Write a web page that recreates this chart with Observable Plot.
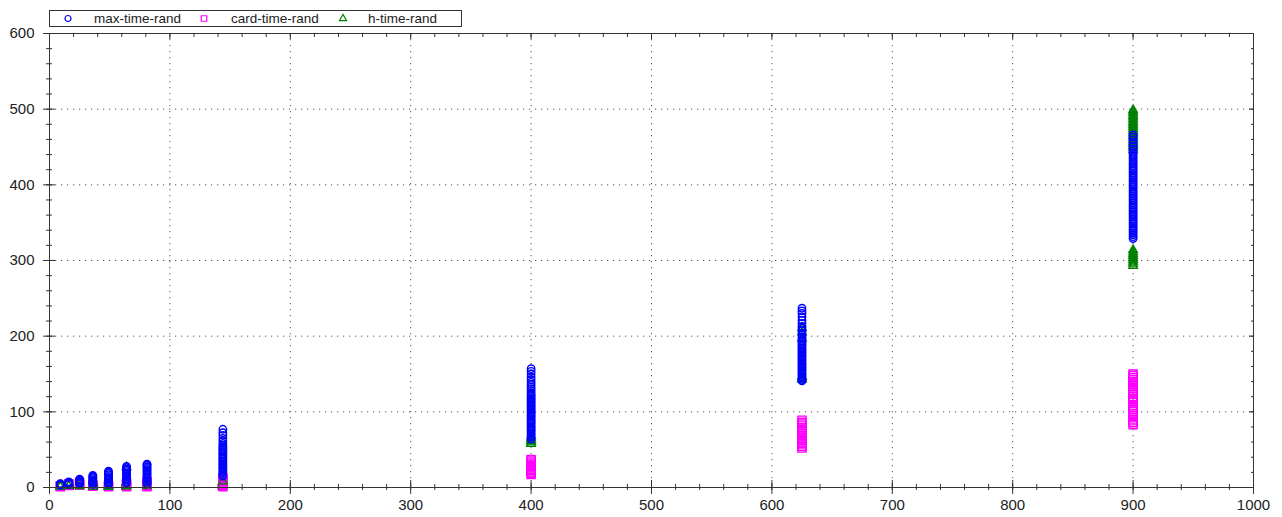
<!DOCTYPE html>
<html>
<head>
<meta charset="utf-8">
<script src="https://cdn.jsdelivr.net/npm/d3@7"></script>
<script src="https://cdn.jsdelivr.net/npm/@observablehq/plot@0.6"></script>
<style>
  body { margin: 0; background: #fff; }
  #wrap { position: relative; width: 1282px; height: 517px; font-family: "Liberation Sans", Arial, sans-serif; }
  #legend { position: absolute; left: 49px; top: 10px; width: 411px; height: 15px; border: 1px solid #333; background: #fff; font-size: 13.5px; color: #222; }
  #legend span { position: absolute; top: -1px; line-height: 17px; white-space: nowrap; }
  #legend svg { position: absolute; top: 0; }
</style>
</head>
<body>
<div id="wrap">
  <div id="chart"></div>
  <div id="legend"></div>
</div>
<script>
// problem sizes (x)
const sizes = [9, 16, 25, 36, 49, 64, 81, 144, 400, 625, 900];

// series labels
const seriesNames = ["max-time-rand", "card-time-rand", "h-time-rand"];
const seriesColors = ["#0000ff", "#ff00ff", "#008000"];

// max-time-rand values per size
const maxTime = [
  [3, 3.5, 4, 4.6, 5.2],
  [4, 5, 6, 6.8, 7.5],
  [5, 6.2, 7.1, 8, 9.3, 10.2, 11],
  [4, 5.5, 7.2, 8.6, 10.1, 11.8, 13.2, 14.6, 16],
  [4, 5.8, 7.5, 9.6, 11.2, 13, 14.8, 16.9, 18.7, 20.3, 21.5],
  [6, 7.8, 9.7, 11.5, 13.6, 15.2, 17.4, 19.1, 21, 22.8, 24.5, 26.3, 28],
  [5, 7, 8.6, 10.5, 12.4, 14.1, 16.3, 18, 19.8, 21.9, 23.5, 25.4, 27.2, 29, 30.2, 31],
  [15, 17, 19.5, 21, 23.4, 25, 27.2, 29.5, 31, 33.3, 35, 37.6, 39, 41.2, 43.5, 45, 47.1, 49.4, 51, 53.2, 55.6, 58, 61.5, 65, 69, 72.5, 77],
  [64, 66.5, 68, 70.3, 72.1, 74.6, 76, 78.4, 80.2, 82, 84.5, 86.1, 88.3, 90, 92.6, 94.2, 96, 98.5, 100.1, 102.4, 104, 106.3, 108.2, 110, 112.5, 114.1, 116.4, 118, 120.6, 122.3, 125, 127.8, 130.5, 133, 136.2, 139, 142.5, 146, 150, 153.5, 157],
  [141, 142.5, 144.3, 146, 148.2, 150.1, 152, 154.4, 156, 158.3, 160.1, 162.2, 164, 166.5, 168.1, 170, 172.4, 174.2, 176, 178.3, 180.1, 182.4, 184, 186.2, 188.5, 190.1, 192.3, 194, 196.6, 199, 201.5, 204, 207.2, 210.5, 213, 216.8, 221, 225.5, 230, 233.4, 237],
  [329, 331.5, 334, 336.2, 338.6, 341, 343.3, 345.5, 348, 350.2, 352.7, 355, 357.4, 359.6, 362, 364.3, 366.5, 369, 371.2, 373.6, 376, 378.3, 380.5, 383, 385.2, 387.6, 390, 392.2, 394.7, 397, 399.3, 401.5, 404, 406.4, 408.6, 411, 413.3, 415.5, 418, 420.2, 422.6, 425, 427.3, 429.5, 432, 434.4, 436.8, 439, 441.5, 444, 447.5, 451, 455, 459.5, 463, 466]
];

// card-time-rand values per size
const cardTime = [
  [1, 1.6, 2.2],
  [2.5, 3.5, 4.5, 5.2],
  [3, 4.2, 5.4, 6.8],
  [1.5, 2.6, 3.4],
  [1, 2, 3.1],
  [1, 2.8, 4.6, 6.5],
  [1, 2.2, 3.9, 5.8, 7.6],
  [1, 2.6, 4.3, 6, 7.8, 9.5, 11.4, 13],
  [17, 18.8, 20.5, 22.3, 24, 25.8, 27.5, 29.4, 31, 33.5, 35.2, 37],
  [52, 54, 56.3, 58.5, 60.1, 62.5, 64.2, 66.7, 69, 71.5, 74, 76.4, 79, 81.5, 84, 86.3, 89],
  [83, 85.5, 88, 90.4, 93, 95.5, 98, 100.4, 103, 105.5, 108, 113, 115.6, 118, 120.4, 123, 125.5, 128, 130.6, 133, 135.5, 138, 140.4, 143, 145.6, 148, 150]
];

// h-time-rand values per size
const hTime = [
  [1.2, 2],
  [2],
  [1.8],
  [1],
  [0.8, 1.5],
  [1.5, 27],
  [2.5],
  [8],
  [57.5, 59.5, 61.2, 63, 65, 67.5],
  [142.5, 144.5, 146.5, 197, 205, 210.5],
  [293, 296, 298.5, 301, 303.5, 306, 308.5, 311, 314, 446, 449, 451.5, 454, 456.5, 459, 461.5, 464, 466.5, 469, 471.5, 474, 476.5, 479, 481.5, 484, 486.5, 489, 491.5, 494, 496.5, 499]
];

// axis ticks
const xMajor = [0, 100, 200, 300, 400, 500, 600, 700, 800, 900, 1000];
const yMajor = [0, 100, 200, 300, 400, 500, 600];
const xMinor = d3.range(0, 1001, 20);
const yMinor = d3.range(0, 601, 20);

function flatten(values, series) {
  const out = [];
  values.forEach((col, i) => col.forEach(v => out.push({x: sizes[i], y: v, series})));
  return out;
}
const maxData = flatten(maxTime, seriesNames[0]);
const cardData = flatten(cardTime, seriesNames[1]);
const hData = flatten(hTime, seriesNames[2]);

const tickStyle = {stroke: "#333", text: null, label: null};

const chart = Plot.plot({
  width: 1282,
  height: 517,
  marginLeft: 49,
  marginRight: 29,
  marginTop: 33,
  marginBottom: 30,
  style: {fontFamily: "'Liberation Sans', Arial, sans-serif", fontSize: "15px", color: "#222", background: "#fff"},
  x: {domain: [0, 1000], label: null},
  y: {domain: [0, 600], label: null},
  marks: [
    Plot.gridX(xMajor.slice(1, -1), {stroke: "#555", strokeOpacity: 1, strokeDasharray: "1.2,4.8"}),
    Plot.gridY(yMajor.slice(1, -1), {stroke: "#555", strokeOpacity: 1, strokeDasharray: "1.2,4.8"}),
    Plot.dot(cardData, {x: "x", y: "y", symbol: "square", r: 4.5, stroke: seriesColors[1], strokeWidth: 1.4, fill: "none"}),
    Plot.dot(hData, {x: "x", y: "y", symbol: "triangle", r: 3.1, stroke: seriesColors[2], strokeWidth: 1.4, fill: "none"}),
    Plot.dot(maxData, {x: "x", y: "y", symbol: "circle", r: 3.7, stroke: seriesColors[0], strokeWidth: 1.4, fill: "none"}),
    Plot.frame({stroke: "#333"}),
    // bottom axis
    Plot.axisX(xMajor, {anchor: "bottom", tickSize: 7, tickPadding: 5, stroke: "#333", label: null, tickFormat: d => String(d)}),
    Plot.axisX(xMajor, {anchor: "bottom", tickSize: -7, ...tickStyle}),
    Plot.axisX(xMinor, {anchor: "bottom", tickSize: 3, ...tickStyle}),
    Plot.axisX(xMinor, {anchor: "bottom", tickSize: -3, ...tickStyle}),
    // top axis (inner ticks)
    Plot.axisX(xMajor, {anchor: "top", tickSize: -5, ...tickStyle}),
    Plot.axisX(xMinor, {anchor: "top", tickSize: -3, ...tickStyle}),
    // left axis
    Plot.axisY(yMajor, {anchor: "left", tickSize: 6, tickPadding: 9, stroke: "#333", label: null, tickFormat: d => String(d)}),
    Plot.axisY(yMajor, {anchor: "left", tickSize: -6, ...tickStyle}),
    Plot.axisY(yMinor, {anchor: "left", tickSize: 3, ...tickStyle}),
    Plot.axisY(yMinor, {anchor: "left", tickSize: -3, ...tickStyle}),
    // right axis (inner ticks)
    Plot.axisY(yMajor, {anchor: "right", tickSize: -5, ...tickStyle}),
    Plot.axisY(yMinor, {anchor: "right", tickSize: -3, ...tickStyle})
  ]
});
document.getElementById("chart").appendChild(chart);

// legend
const legend = document.getElementById("legend");
const legendItems = [
  {name: seriesNames[0], color: seriesColors[0], sym: "circle", sx: 18, tx: 44},
  {name: seriesNames[1], color: seriesColors[1], sym: "square", sx: 154, tx: 181},
  {name: seriesNames[2], color: seriesColors[2], sym: "triangle", sx: 293, tx: 318}
];
for (const it of legendItems) {
  const ns = "http://www.w3.org/2000/svg";
  const svg = document.createElementNS(ns, "svg");
  svg.setAttribute("width", 12); svg.setAttribute("height", 15);
  svg.style.left = (it.sx - 6) + "px";
  const p = document.createElementNS(ns, "path");
  const sizeMap = {circle: Math.PI * 3 * 3, square: 30, triangle: 22};
  const symMap = {circle: d3.symbolCircle, square: d3.symbolSquare, triangle: d3.symbolTriangle};
  p.setAttribute("d", d3.symbol(symMap[it.sym], sizeMap[it.sym])());
  p.setAttribute("transform", "translate(6,7.5)");
  p.setAttribute("fill", "none");
  p.setAttribute("stroke", it.color);
  p.setAttribute("stroke-width", 1.2);
  svg.appendChild(p);
  legend.appendChild(svg);
  const s = document.createElement("span");
  s.textContent = it.name;
  s.style.left = it.tx + "px";
  legend.appendChild(s);
}
</script>
</body>
</html>
